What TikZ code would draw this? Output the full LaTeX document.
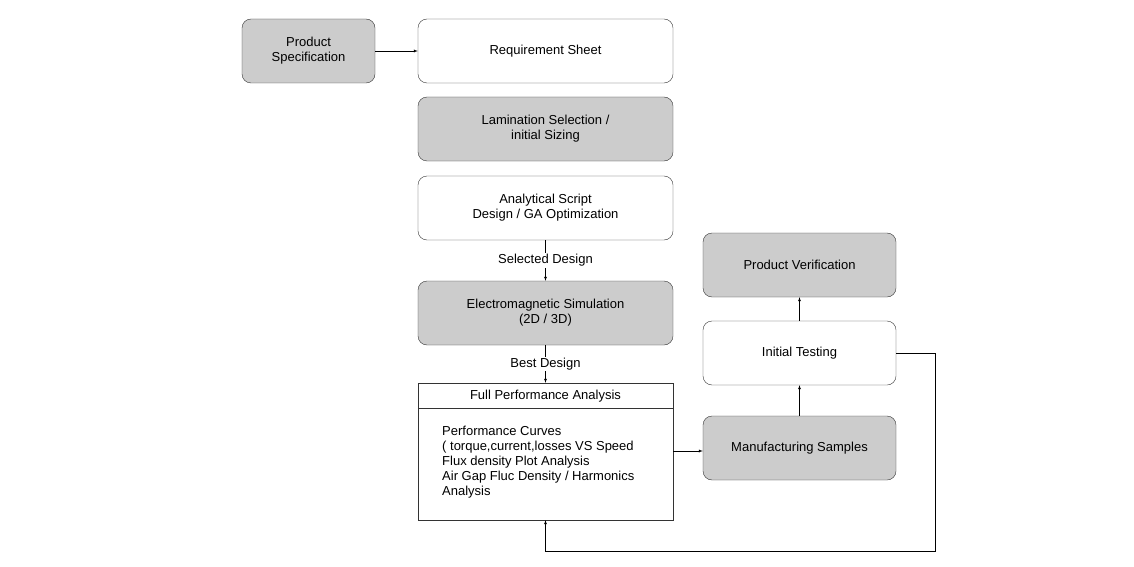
\documentclass[tikz,border=0pt]{standalone}
\usepackage{fontspec}
\setmainfont{Liberation Sans}
\usetikzlibrary{positioning}
\begin{document}
\begin{tikzpicture}[x=1pt,y=-1pt,>=latex,font=\fontsize{13}{15}\selectfont]
        \tikzstyle{stage}=[rectangle,rounded corners=9pt,draw=black!80,fill=white,align=center,minimum height=64pt,inner sep=2pt]
        \tikzstyle{shaded}=[stage,fill=black!20]
        \tikzstyle{edge}=[draw,->,thin]
        \useasboundingbox (0,0) rectangle (1134,567);
        \node [shaded,minimum width=133pt] (spec) at (308.5,51) {Product\\Specification};
        \node [stage,minimum width=255pt] (req) at (545.5,51) {Requirement Sheet};
        \node [shaded,minimum width=255pt] (lam) at (545.5,129) {Lamination Selection /\\initial Sizing};
        \node [stage,minimum width=255pt] (ana) at (545.5,208) {Analytical Script\\Design / GA Optimization};
        \node [shaded,minimum width=255pt] (em) at (545.5,313) {Electromagnetic Simulation\\(2D / 3D)};
        \node [draw=black!80,minimum width=255pt,minimum height=137pt] (full) at (545.5,451.5) {};
        \node (fullhead) at (545.5,396) {Full Performance Analysis};
        \node [align=left,anchor=north west,inner sep=0pt] (curves) at (442,426) {Performance Curves\\( torque,current,losses VS Speed\\Flux density Plot Analysis\\Air Gap Fluc Density / Harmonics\\Analysis};
        \node [shaded,minimum width=193pt] (verif) at (799.5,265) {Product Verification};
        \node [stage,minimum width=193pt] (test) at (799.5,353) {Initial Testing};
        \node [shaded,minimum width=193pt] (manu) at (799.5,448) {Manufacturing Samples};
        \coordinate (c1) at (935,353);
        \coordinate (c2) at (935,551);
        \coordinate (c3) at (545.5,551);
        \draw [black!80] (full.west |- 0,408) -- (full.east |- 0,408);
        \path[edge] (spec) -- (req);
        \path[edge] (ana) -- node[fill=white,inner sep=1pt] {Selected Design} (em);
        \path[edge] (em) -- node[fill=white,inner sep=1pt] {Best Design} (full);
        \path[edge] (full.east |- 0,451) -- (manu.west |- 0,451);
        \path[edge] (manu) -- (test);
        \path[edge] (test) -- (verif);
        \path[edge] (test.east) -- (c1) -- (c2) -- (c3) -- (full.south);
\end{tikzpicture}
\end{document}
